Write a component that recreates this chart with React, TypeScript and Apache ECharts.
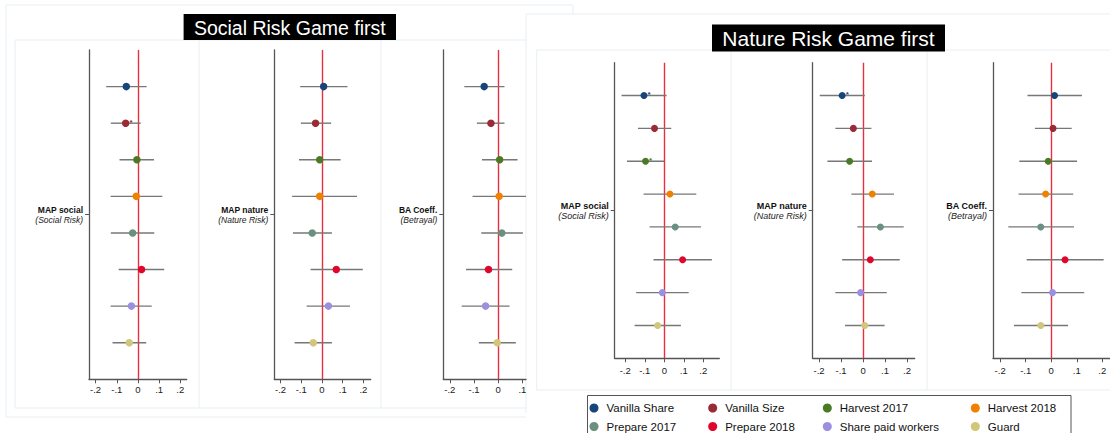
import React, { useEffect, useRef } from "react";
import * as echarts from "echarts";

// ---------- data ----------
const categories = [
  "Vanilla Share",
  "Vanilla Size",
  "Harvest 2017",
  "Harvest 2018",
  "Prepare 2017",
  "Prepare 2018",
  "Share paid workers",
  "Guard",
];
const rows = [1, 2, 3, 4, 5, 6, 7, 8];
const xTicks = [-0.2, -0.1, 0, 0.1, 0.2];
const xTickLabels = ["-.2", "-.1", "0", ".1", ".2"];

// Social Risk Game first
const sMapSocialEst = [-0.055, -0.058, -0.005, -0.008, -0.025, 0.017, -0.031, -0.041];
const sMapSocialLo = [-0.15, -0.128, -0.087, -0.129, -0.128, -0.091, -0.129, -0.12];
const sMapSocialHi = [0.041, 0.013, 0.076, 0.115, 0.077, 0.124, 0.065, 0.039];
const sMapSocialSig = ["", "*", "", "", "", "", "", ""];

const sMapNatureEst = [0.008, -0.031, -0.011, -0.011, -0.047, 0.069, 0.031, -0.042];
const sMapNatureLo = [-0.105, -0.102, -0.111, -0.144, -0.14, -0.055, -0.074, -0.132];
const sMapNatureHi = [0.123, 0.044, 0.09, 0.169, 0.048, 0.197, 0.135, 0.048];
const sMapNatureSig = ["", "", "", "", "", "", "", ""];

const sBaEst = [-0.058, -0.03, 0.006, 0.004, 0.015, -0.04, -0.052, -0.004];
const sBaLo = [-0.14, -0.088, -0.067, -0.106, -0.07, -0.133, -0.151, -0.08];
const sBaHi = [0.026, 0.026, 0.08, 0.125, 0.102, 0.058, 0.047, 0.073];
const sBaSig = ["", "", "", "", "", "", "", ""];

// Nature Risk Game first
const nMapSocialEst = [-0.104, -0.05, -0.096, 0.029, 0.056, 0.094, -0.01, -0.034];
const nMapSocialLo = [-0.219, -0.135, -0.191, -0.106, -0.075, -0.055, -0.144, -0.152];
const nMapSocialHi = [0.012, 0.036, 0.0, 0.164, 0.188, 0.244, 0.125, 0.085];
const nMapSocialSig = ["*", "", "*", "", "", "", "", ""];

const nMapNatureEst = [-0.095, -0.044, -0.061, 0.042, 0.079, 0.033, -0.011, 0.008];
const nMapNatureLo = [-0.197, -0.126, -0.162, -0.053, -0.026, -0.095, -0.126, -0.082];
const nMapNatureHi = [0.008, 0.038, 0.041, 0.141, 0.185, 0.167, 0.108, 0.098];
const nMapNatureSig = ["*", "", "", "", "", "", "", ""];

const nBaEst = [0.013, 0.007, -0.012, -0.022, -0.041, 0.054, 0.005, -0.041];
const nBaLo = [-0.093, -0.064, -0.125, -0.128, -0.168, -0.096, -0.117, -0.146];
const nBaHi = [0.12, 0.08, 0.101, 0.086, 0.089, 0.205, 0.129, 0.066];
const nBaSig = ["", "", "", "", "", "", "", ""];

const outcomeTitles = ["MAP social", "MAP nature", "BA Coeff."];
const outcomeSubtitles = ["(Social Risk)", "(Nature Risk)", "(Betrayal)"];
const panelTitles = ["Social Risk Game first", "Nature Risk Game first"];

// ---------- styles / layout ----------
const colors = ["#17457a", "#9a2a36", "#4b7a26", "#f08000", "#6a9080", "#e0062b", "#9b8fe0", "#d2c67a"];
const FONT = "'Liberation Sans', Arial, Helvetica, sans-serif";
const frameColor = "#e9eff2";
const axisColor = "#555";

const panels = [
  { est: sMapSocialEst, lo: sMapSocialLo, hi: sMapSocialHi, sig: sMapSocialSig, t: 0, left: 89, top: 50, width: 97.7, height: 329.3, xMin: -0.231, xMax: 0.23, dot: 7.5, lf: 8.5, tf: 9.5, lm: 5 },
  { est: sMapNatureEst, lo: sMapNatureLo, hi: sMapNatureHi, sig: sMapNatureSig, t: 1, left: 274.3, top: 50, width: 96.4, height: 329.3, xMin: -0.23, xMax: 0.235, dot: 7.5, lf: 8.5, tf: 9.5, lm: 5 },
  { est: sBaEst, lo: sBaLo, hi: sBaHi, sig: sBaSig, t: 2, left: 443.3, top: 50, width: 82.7, height: 329.3, xMin: -0.227, xMax: 0.115, dot: 7.5, lf: 8.5, tf: 9.5, lm: 5 },
  { est: nMapSocialEst, lo: nMapSocialLo, hi: nMapSocialHi, sig: nMapSocialSig, t: 0, left: 614.7, top: 62.7, width: 104.6, height: 295.6, xMin: -0.254, xMax: 0.282, dot: 7, lf: 9, tf: 9.5, lm: 7 },
  { est: nMapNatureEst, lo: nMapNatureLo, hi: nMapNatureHi, sig: nMapNatureSig, t: 1, left: 812.7, top: 62.7, width: 102, height: 295.6, xMin: -0.229, xMax: 0.235, dot: 7, lf: 9, tf: 9.5, lm: 7 },
  { est: nBaEst, lo: nBaLo, hi: nBaHi, sig: nBaSig, t: 2, left: 993, top: 62.7, width: 117, height: 295.6, xMin: -0.228, xMax: 0.23, dot: 7, lf: 9, tf: 9.5, lm: 7 },
];

const legendPos = [
  [589.5, 402], [708.2, 402], [822.8, 402], [970.8, 402],
  [589.5, 420.5], [708.2, 420.5], [822.8, 420.5], [970.8, 420.5],
];

function ln(x1: number, y1: number, x2: number, y2: number, stroke = frameColor, z = 0) {
  return { type: "line", silent: true, z, shape: { x1, y1, x2, y2 }, style: { stroke, lineWidth: 1 } };
}

function buildOption() {
  const grid = panels.map((p) => ({ left: p.left, top: p.top, width: p.width, height: p.height }));
  const xAxis = panels.map((p, i) => {
    const ticks = xTicks.filter((t) => t >= p.xMin - 1e-9 && t <= p.xMax + 1e-9);
    return {
      type: "value",
      gridIndex: i,
      min: p.xMin,
      max: p.xMax,
      axisLine: { show: true, onZero: false, lineStyle: { color: axisColor, width: 1.3 } },
      axisTick: { show: true, customValues: ticks, length: 4, lineStyle: { color: axisColor, width: 1 } },
      axisLabel: {
        customValues: ticks,
        margin: p.lm,
        fontSize: p.tf,
        color: "#1a1a1a",
        fontFamily: FONT,
        formatter: (v: number) => {
          const k = xTicks.findIndex((t) => Math.abs(t - v) < 1e-6);
          return k >= 0 ? xTickLabels[k] : "";
        },
      },
      splitLine: { show: false },
    };
  });
  const yAxis = panels.map((p, i) => ({
    type: "value",
    gridIndex: i,
    inverse: true,
    min: 0,
    max: 9,
    axisLine: { show: true, onZero: false, lineStyle: { color: axisColor, width: 1.3 } },
    axisTick: { show: true, customValues: [4.5], length: 4, lineStyle: { color: axisColor, width: 1 } },
    axisLabel: {
      customValues: [4.5],
      margin: 6,
      formatter: () => `{b|${outcomeTitles[p.t]}}\n{i|${outcomeSubtitles[p.t]}}`,
      rich: {
        b: { fontWeight: "bold", fontSize: p.lf, color: "#111", lineHeight: 10, align: "right", fontFamily: FONT },
        i: { fontStyle: "italic", fontSize: p.lf, color: "#222", lineHeight: 10, align: "right", fontFamily: FONT },
      },
    },
    splitLine: { show: false },
  }));

  const series: any[] = [];
  panels.forEach((p, i) => {
    series.push({
      type: "custom",
      xAxisIndex: i,
      yAxisIndex: i,
      silent: true,
      z: 2,
      encode: { x: [0, 1], y: 2 },
      data: rows.map((r, k) => [p.lo[k], p.hi[k], r]),
      renderItem: (params: any, api: any) => {
        const a = api.coord([api.value(0), api.value(2)]);
        const b = api.coord([api.value(1), api.value(2)]);
        const cs = params.coordSys;
        const x1 = Math.max(a[0], cs.x);
        const x2 = Math.min(b[0], cs.x + cs.width);
        return {
          type: "line",
          shape: { x1, y1: a[1], x2, y2: b[1] },
          style: { stroke: "#777", lineWidth: 1.4 },
        };
      },
    });
    series.push({
      type: "scatter",
      xAxisIndex: i,
      yAxisIndex: i,
      silent: true,
      z: 4,
      symbolSize: p.dot,
      itemStyle: { opacity: 1 },
      label: { position: "right", distance: 0, fontSize: 8, fontWeight: "bold", fontFamily: FONT, offset: [0, -1] },
      data: rows.map((r, k) => ({
        value: [p.est[k], r],
        itemStyle: { color: colors[k], opacity: 1 },
        label: { show: p.sig[k] !== "", formatter: p.sig[k], color: colors[k] },
      })),
      markLine: {
        silent: true,
        symbol: ["none", "none"],
        label: { show: false },
        lineStyle: { color: "#e8303f", width: 1.4, type: "solid", opacity: 1 },
        data: [{ xAxis: 0 }],
        z: 1,
      },
    });
  });
  categories.forEach((c, k) => {
    series.push({ type: "scatter", name: c, xAxisIndex: 0, yAxisIndex: 0, data: [], itemStyle: { color: colors[k], opacity: 1 } });
  });

  const legend = categories.map((c, k) => ({
    data: [c],
    left: legendPos[k][0],
    top: legendPos[k][1],
    icon: "circle",
    itemWidth: 9,
    itemHeight: 9,
    padding: 0,
    selectedMode: false,
    itemStyle: { opacity: 1 },
    textStyle: { fontSize: 11.5, color: "#111", fontFamily: FONT, padding: [0, 0, 0, 3] },
  }));

  const graphic: any[] = [
    // left panel frames
    ln(6, 5, 573, 5),
    ln(573, 5, 573, 14),
    ln(6, 5, 6, 417),
    ln(6, 417, 526, 417),
    ln(15, 40, 526, 40),
    ln(15, 40, 15, 408),
    ln(15, 408, 526, 408),
    ln(199, 40, 199, 408),
    ln(381, 40, 381, 408),
    // right panel frames
    ln(526, 14, 1110, 14),
    ln(526, 14, 526, 413),
    ln(536.7, 50, 1110, 50),
    ln(536.7, 50, 536.7, 390),
    ln(536.7, 390, 1110, 390),
    ln(731, 50, 731, 390),
    ln(927, 50, 927, 390),
    // title boxes
    { type: "rect", z: 10, silent: true, shape: { x: 183.6, y: 14, width: 212.4, height: 26 }, style: { fill: "#000" } },
    {
      type: "text", z: 11, silent: true, x: 289.8, y: 27.5,
      style: { text: panelTitles[0], fill: "#fff", fontSize: 19.5, fontFamily: FONT, align: "center", verticalAlign: "middle" },
    },
    { type: "rect", z: 10, silent: true, shape: { x: 712, y: 24.5, width: 233, height: 27 }, style: { fill: "#000" } },
    {
      type: "text", z: 11, silent: true, x: 828.5, y: 38.5,
      style: { text: panelTitles[1], fill: "#fff", fontSize: 21, fontFamily: FONT, align: "center", verticalAlign: "middle" },
    },
    // legend box
    { type: "rect", z: 1, silent: true, shape: { x: 587.5, y: 395.5, width: 483.5, height: 50 }, style: { fill: "none", stroke: "#555", lineWidth: 1 } },
  ];

  return {
    animation: false,
    textStyle: { fontFamily: FONT },
    grid,
    xAxis,
    yAxis,
    series,
    legend,
    graphic,
  };
}

export default function App() {
  const ref = useRef<HTMLDivElement>(null);
  useEffect(() => {
    if (!ref.current) return;
    const chart = echarts.init(ref.current, undefined, { renderer: "svg" });
    chart.setOption(buildOption() as any);
    return () => chart.dispose();
  }, []);
  return (
    <div
      ref={ref}
      style={{ position: "absolute", left: 0, top: 0, width: 1110, height: 433, background: "#fff" }}
    />
  );
}
